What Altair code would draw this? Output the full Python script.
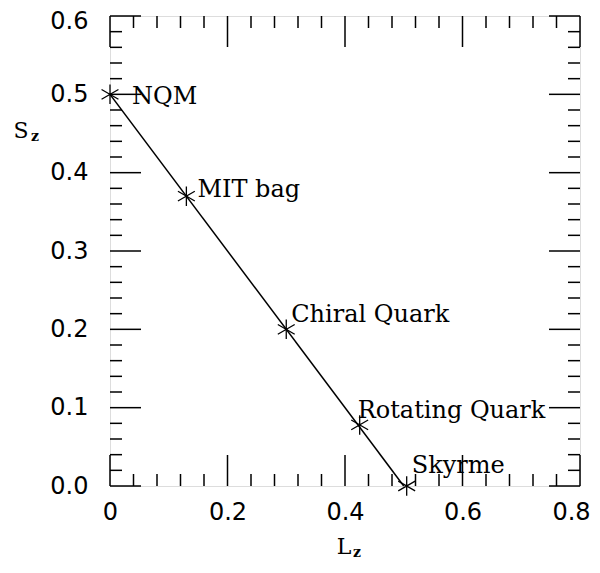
import altair as alt
import pandas as pd
import numpy as np

# data
names = ["NQM", "MIT bag", "Chiral Quark", "Rotating Quark", "Skyrme"]
Lz = [0.0, 0.13, 0.30, 0.425, 0.505]
Sz = [0.5, 0.37, 0.20, 0.078, 0.0]
line_L = [0.0, 0.5]
line_S = [0.5, 0.0]

x_major = [0.0, 0.2, 0.4, 0.6, 0.8]
y_major = [0.0, 0.1, 0.2, 0.3, 0.4, 0.5, 0.6]
x_minor = [round(v, 2) for v in np.arange(0.04, 0.8, 0.04) if round(v, 2) not in x_major]
y_minor = [round(v, 2) for v in np.arange(0.02, 0.6, 0.02) if round(v, 2) not in y_major]

W, H = 470, 470
FONT = "DejaVu Serif"
TFONT = "DejaVu Sans"

pts = pd.DataFrame({"name": names, "L": Lz, "S": Sz})
ln = pd.DataFrame({"L": line_L, "S": line_S})

xs = alt.Scale(domain=[0, 0.8], nice=False, zero=False)
ys = alt.Scale(domain=[0, 0.6], nice=False, zero=False)

X = alt.X("L:Q", scale=xs, axis=alt.Axis(values=x_major, format="~g", ticks=False, domain=False,
                                         grid=False, title=None, labelFont=TFONT, labelFontSize=24,
                                         labelColor="black", labelPadding=14, labelFlush=False,
                                         labelOffset={"expr": "datum.value >= 0.79 ? -9 : 0"}))
Y = alt.Y("S:Q", scale=ys, axis=alt.Axis(values=y_major, format=".1f", ticks=False, domain=False,
                                         grid=False, title=None, labelFont=TFONT, labelFontSize=24,
                                         labelColor="black", labelPadding=22, labelFlush=False,
                                         labelOffset={"expr": "datum.value >= 0.59 ? 5 : 0"}))

line = alt.Chart(ln).mark_line(color="black", strokeWidth=1.5).encode(x=X, y=Y)

star = "M0,-1L0,1M-0.866,-0.5L0.866,0.5M-0.866,0.5L0.866,-0.5"
stars = alt.Chart(pts).mark_point(shape=star, size=380, filled=False, color="black",
                                  strokeWidth=1.3, opacity=1).encode(
    x=alt.X("L:Q", scale=xs), y=alt.Y("S:Q", scale=ys))

offsets = {"NQM": (22, 10), "MIT bag": (11, 1), "Chiral Quark": (5, -7),
           "Rotating Quark": (-2, -7), "Skyrme": (5, -13)}
labels = []
for n in names:
    dx, dy = offsets[n]
    labels.append(
        alt.Chart(pts).transform_filter(alt.datum.name == n)
        .mark_text(align="left", baseline="alphabetic", font=FONT, fontSize=24, color="black",
                   dx=dx, dy=dy)
        .encode(x=alt.X("L:Q", scale=xs), y=alt.Y("S:Q", scale=ys), text="name:N")
    )

def xticks(vals, length):
    d = pd.DataFrame({"L": vals})
    b = alt.Chart(d).mark_rule(color="black", strokeWidth=1.5).encode(
        x=alt.X("L:Q", scale=xs), y=alt.value(H), y2=alt.value(H - length))
    t = alt.Chart(d).mark_rule(color="black", strokeWidth=1.5).encode(
        x=alt.X("L:Q", scale=xs), y=alt.value(0), y2=alt.value(length))
    return [b, t]

def yticks(vals, length):
    d = pd.DataFrame({"S": vals})
    l = alt.Chart(d).mark_rule(color="black", strokeWidth=1.5).encode(
        y=alt.Y("S:Q", scale=ys), x=alt.value(0), x2=alt.value(length))
    r = alt.Chart(d).mark_rule(color="black", strokeWidth=1.5).encode(
        y=alt.Y("S:Q", scale=ys), x=alt.value(W), x2=alt.value(W - length))
    return [l, r]

ticks = xticks(x_major, 31) + xticks(x_minor, 12) + yticks(y_major, 31) + yticks(y_minor, 12)

tdf = pd.DataFrame({"a": [0]})
def txt(s, x, y, size, weight="normal"):
    return alt.Chart(tdf).mark_text(text=s, font=FONT, fontSize=size, fontWeight=weight,
                                    color="black", align="center", baseline="middle").encode(
        x=alt.value(x), y=alt.value(y))

titles = [txt("L", 234, 531, 22), txt("z", 247, 537, 14, "bold"),
          txt("S", -89, 115, 22), txt("z", -75, 121, 14, "bold")]

chart = alt.layer(line, stars, *labels, *ticks, *titles).properties(
    width=W, height=H,
    autosize=alt.AutoSizeParams(type="none"),
    padding={"left": 102, "top": 8, "right": 12, "bottom": 79},
).configure_view(stroke="black", strokeWidth=2).configure(background="white")

chart.save("out.html", embed_options={"renderer": "svg", "actions": False})
